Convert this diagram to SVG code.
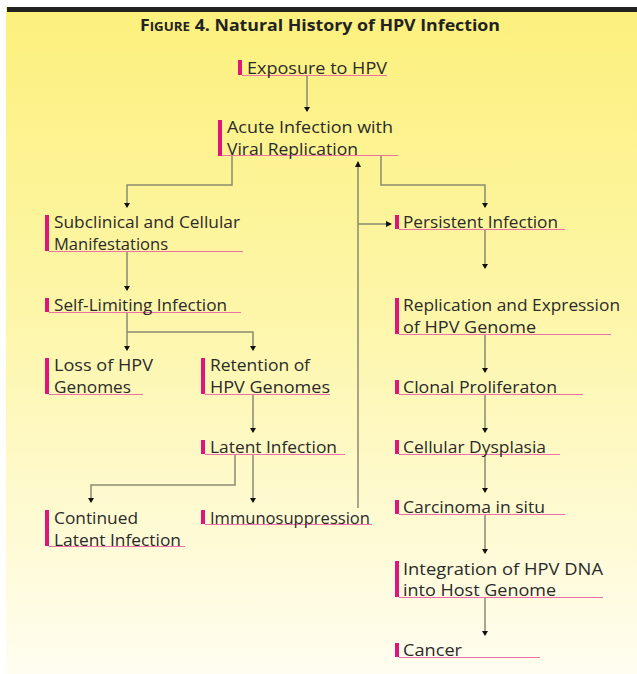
<svg xmlns="http://www.w3.org/2000/svg" width="637" height="674" viewBox="0 0 637 674">
<defs>
<linearGradient id="bg" x1="0" y1="0" x2="0" y2="1">
<stop offset="0" stop-color="#fcf07c"/>
<stop offset="0.45" stop-color="#fdf6a8"/>
<stop offset="1" stop-color="#fffdf0"/>
</linearGradient>
<marker id="ah" markerWidth="6" markerHeight="6" refX="3" refY="5" orient="0" markerUnits="userSpaceOnUse" viewBox="0 0 6 6">
<path d="M0,1 L6,1 L3,6 Z" fill="#111"/>
</marker>
<marker id="ar" markerWidth="6" markerHeight="6" refX="5" refY="3" orient="0" markerUnits="userSpaceOnUse" viewBox="0 0 6 6">
<path d="M0,0 L6,3 L0,6 Z" fill="#111"/>
</marker>
<marker id="au" markerWidth="6" markerHeight="6" refX="3" refY="1" orient="0" markerUnits="userSpaceOnUse" viewBox="0 0 6 6">
<path d="M0,6 L6,6 L3,0 Z" fill="#111"/>
</marker>
</defs>
<style>
.t{font-family:"Open Sans","Liberation Sans",Arial,sans-serif;font-size:16.5px;fill:#2a2a2a;}
.bar{fill:#e0157a;}
.ul{stroke:#ef6fa8;stroke-width:1;fill:none;}
.c{stroke:#8a8a72;stroke-width:1.5;fill:none;}
.ttl{font-family:"Open Sans","Liberation Sans",Arial,sans-serif;font-weight:bold;font-size:16px;fill:#222;}
</style>
<rect x="0" y="0" width="637" height="674" fill="#ffffff"/>
<rect x="6" y="7" width="631" height="667" fill="url(#bg)"/>
<rect x="7" y="7" width="630" height="5" fill="#222"/>
<text class="ttl" x="140" y="31" textLength="360" lengthAdjust="spacingAndGlyphs">F<tspan font-size="12px">IGURE</tspan> 4. Natural History of HPV Infection</text>

<g id="connectors">
<path class="c" d="M307,76 V111" marker-end="url(#ah)"/>
<path class="c" d="M232,156 V185 H127 V207" marker-end="url(#ah)"/>
<path class="c" d="M381,156 V185 H485 V207" marker-end="url(#ah)"/>
<path class="c" d="M358,508 V162" marker-end="url(#au)"/>
<path class="c" d="M358,224 H391" marker-end="url(#ar)"/>
<path class="c" d="M127,252 V290" marker-end="url(#ah)"/>
<path class="c" d="M127,313 V350"  marker-end="url(#ah)"/>
<path class="c" d="M127,332 H253 V350" marker-end="url(#ah)"/>
<path class="c" d="M253,395 V432" marker-end="url(#ah)"/>
<path class="c" d="M235,455 V485 H91 V502" marker-end="url(#ah)"/>
<path class="c" d="M253,455 V502" marker-end="url(#ah)"/>
<path class="c" d="M485,230 V268" marker-end="url(#ah)"/>
<path class="c" d="M485,335 V372" marker-end="url(#ah)"/>
<path class="c" d="M485,395 V432" marker-end="url(#ah)"/>
<path class="c" d="M485,455 V492" marker-end="url(#ah)"/>
<path class="c" d="M485,514 V553" marker-end="url(#ah)"/>
<path class="c" d="M485,598 V635" marker-end="url(#ah)"/>
</g>

<g id="exposure">
<rect class="bar" x="238" y="60" width="4" height="15"/>
<line class="ul" x1="242" y1="75.5" x2="387" y2="75.5"/>
<text class="t" x="247" y="74" textLength="140" lengthAdjust="spacingAndGlyphs">Exposure to HPV</text>
</g>
<g id="acute">
<rect class="bar" x="218" y="120" width="4" height="36"/>
<line class="ul" x1="222" y1="155.5" x2="398" y2="155.5"/>
<text class="t" x="227" y="133" textLength="166" lengthAdjust="spacingAndGlyphs">Acute Infection with</text>
<text class="t" x="227" y="155" textLength="131" lengthAdjust="spacingAndGlyphs">Viral Replication</text>
</g>
<g id="subclinical">
<rect class="bar" x="45" y="215" width="4" height="36"/>
<line class="ul" x1="49" y1="251.5" x2="243" y2="251.5"/>
<text class="t" x="54" y="228" textLength="186" lengthAdjust="spacingAndGlyphs">Subclinical and Cellular</text>
<text class="t" x="54" y="250" textLength="114" lengthAdjust="spacingAndGlyphs">Manifestations</text>
</g>
<g id="selflimiting">
<rect class="bar" x="45" y="298" width="4" height="14"/>
<line class="ul" x1="49" y1="312.5" x2="241" y2="312.5"/>
<text class="t" x="54" y="311" textLength="173" lengthAdjust="spacingAndGlyphs">Self-Limiting Infection</text>
</g>
<g id="loss">
<rect class="bar" x="45" y="358" width="4" height="36"/>
<line class="ul" x1="49" y1="394.5" x2="143" y2="394.5"/>
<text class="t" x="54" y="371" textLength="99" lengthAdjust="spacingAndGlyphs">Loss of HPV</text>
<text class="t" x="54" y="393" textLength="77" lengthAdjust="spacingAndGlyphs">Genomes</text>
</g>
<g id="retention">
<rect class="bar" x="201" y="358" width="4" height="36"/>
<line class="ul" x1="205" y1="394.5" x2="330" y2="394.5"/>
<text class="t" x="210" y="371" textLength="100" lengthAdjust="spacingAndGlyphs">Retention of</text>
<text class="t" x="210" y="393" textLength="120" lengthAdjust="spacingAndGlyphs">HPV Genomes</text>
</g>
<g id="latent">
<rect class="bar" x="201" y="440" width="4" height="14"/>
<line class="ul" x1="205" y1="454.5" x2="345" y2="454.5"/>
<text class="t" x="210" y="453" textLength="127" lengthAdjust="spacingAndGlyphs">Latent Infection</text>
</g>
<g id="continued">
<rect class="bar" x="45" y="510" width="4" height="36"/>
<line class="ul" x1="49" y1="546.5" x2="185" y2="546.5"/>
<text class="t" x="54" y="524" textLength="84" lengthAdjust="spacingAndGlyphs">Continued</text>
<text class="t" x="54" y="546" textLength="127" lengthAdjust="spacingAndGlyphs">Latent Infection</text>
</g>
<g id="immuno">
<rect class="bar" x="201" y="510" width="4" height="14"/>
<line class="ul" x1="205" y1="524.5" x2="372" y2="524.5"/>
<text class="t" x="210" y="524" textLength="160" lengthAdjust="spacingAndGlyphs">Immunosuppression</text>
</g>
<g id="persistent">
<rect class="bar" x="395" y="215" width="4" height="14"/>
<line class="ul" x1="399" y1="229.5" x2="565" y2="229.5"/>
<text class="t" x="403" y="228" textLength="155" lengthAdjust="spacingAndGlyphs">Persistent Infection</text>
</g>
<g id="replication">
<rect class="bar" x="395" y="298" width="4" height="36"/>
<line class="ul" x1="399" y1="334.5" x2="611" y2="334.5"/>
<text class="t" x="403" y="311" textLength="217" lengthAdjust="spacingAndGlyphs">Replication and Expression</text>
<text class="t" x="403" y="333" textLength="133" lengthAdjust="spacingAndGlyphs">of HPV Genome</text>
</g>
<g id="clonal">
<rect class="bar" x="395" y="380" width="4" height="14"/>
<line class="ul" x1="399" y1="394.5" x2="583" y2="394.5"/>
<text class="t" x="403" y="393" textLength="154" lengthAdjust="spacingAndGlyphs">Clonal Proliferaton</text>
</g>
<g id="dysplasia">
<rect class="bar" x="395" y="440" width="4" height="14"/>
<line class="ul" x1="399" y1="454.5" x2="560" y2="454.5"/>
<text class="t" x="403" y="453" textLength="143" lengthAdjust="spacingAndGlyphs">Cellular Dysplasia</text>
</g>
<g id="carcinoma">
<rect class="bar" x="395" y="500" width="4" height="14"/>
<line class="ul" x1="399" y1="514.5" x2="565" y2="514.5"/>
<text class="t" x="403" y="513" textLength="142" lengthAdjust="spacingAndGlyphs">Carcinoma in situ</text>
</g>
<g id="integration">
<rect class="bar" x="395" y="561" width="4" height="36"/>
<line class="ul" x1="399" y1="597.5" x2="603" y2="597.5"/>
<text class="t" x="403" y="575" textLength="200" lengthAdjust="spacingAndGlyphs">Integration of HPV DNA</text>
<text class="t" x="403" y="596" textLength="153" lengthAdjust="spacingAndGlyphs">into Host Genome</text>
</g>
<g id="cancer">
<rect class="bar" x="395" y="643" width="4" height="14"/>
<line class="ul" x1="399" y1="657.5" x2="540" y2="657.5"/>
<text class="t" x="403" y="656" textLength="59" lengthAdjust="spacingAndGlyphs">Cancer</text>
</g>
</svg>
